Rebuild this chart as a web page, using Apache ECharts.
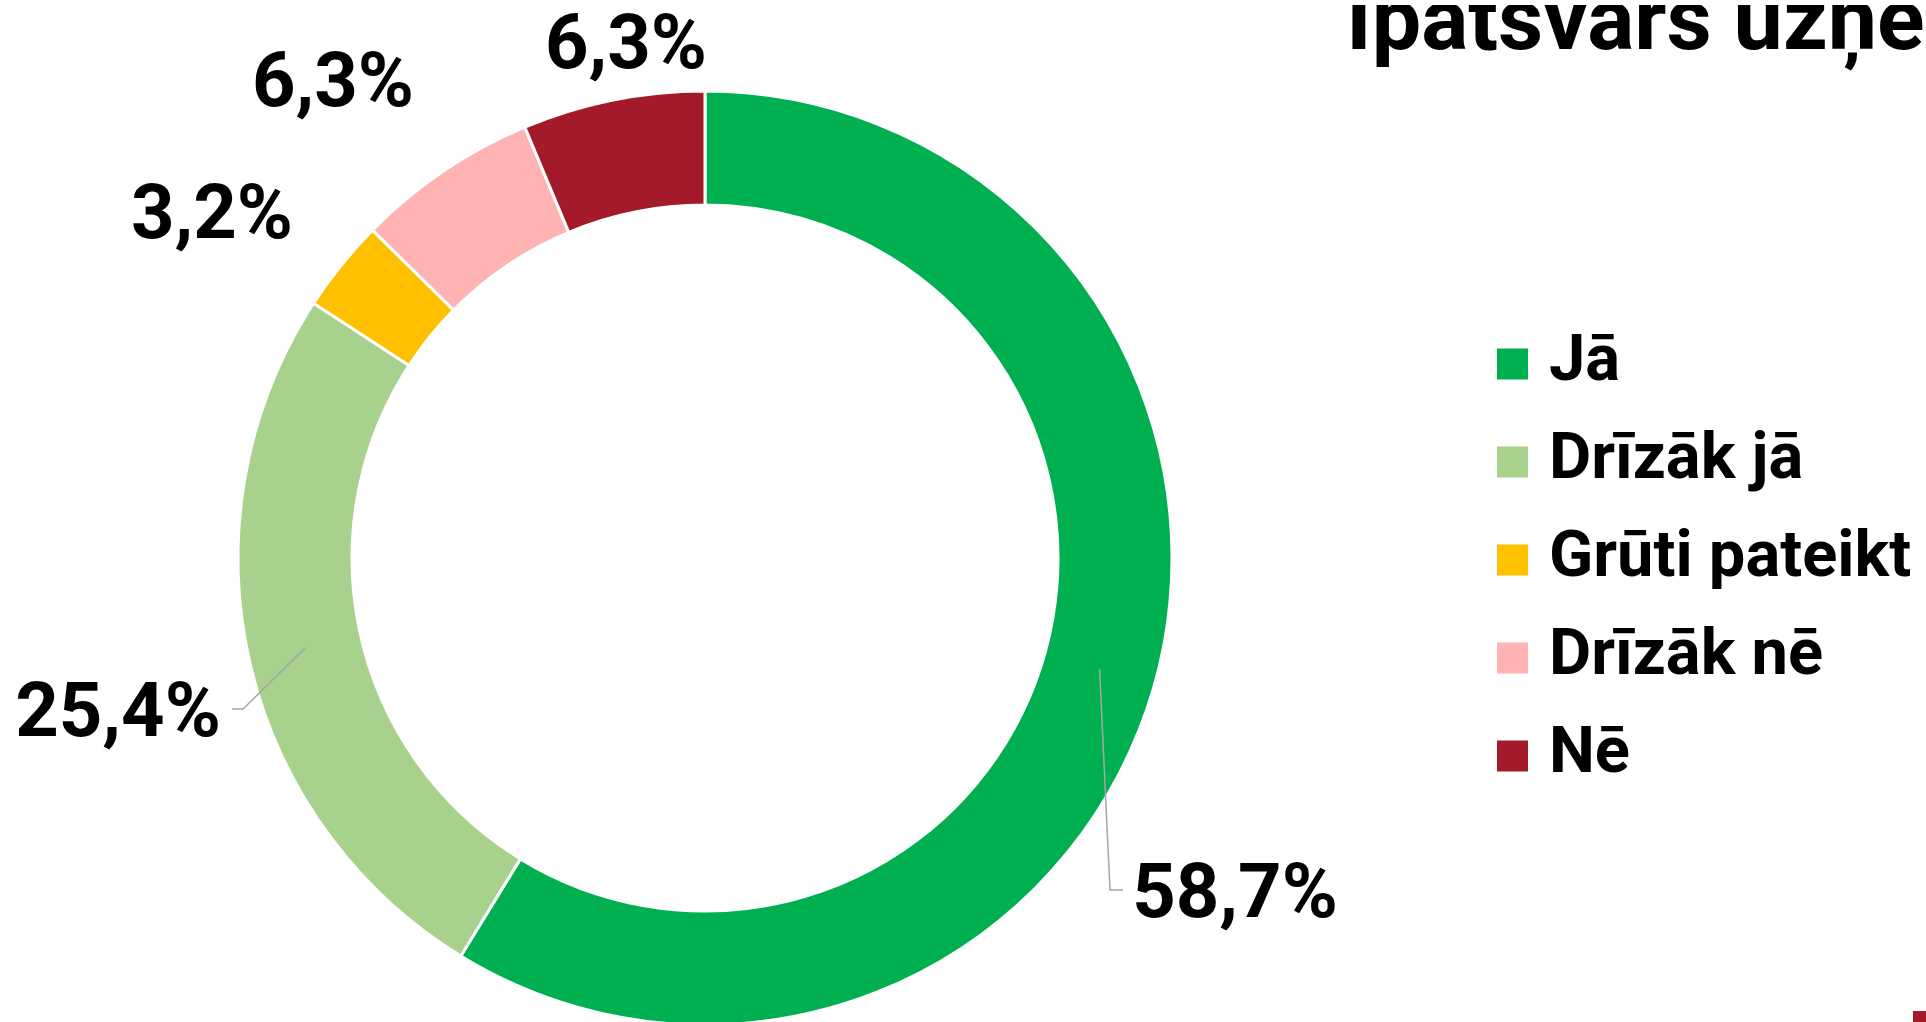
<!DOCTYPE html>
<html>
<head>
<meta charset="utf-8">
<script src="https://cdn.jsdelivr.net/npm/echarts@6/dist/echarts.min.js"></script>
<style>
    html, body { margin: 0; padding: 0; background: #fff; }
    #pie { width: 1926px; height: 1022px; }
</style>
</head>
<body>
<div id="pie"></div>
<script>
// atbilžu kategorijas un to īpatsvars (%)
let categories = ['Jā', 'Drīzāk jā', 'Grūti pateikt', 'Drīzāk nē', 'Nē'];
let shares = [58.7, 25.4, 3.2, 6.3, 6.3];

let colors = ['#00b050', '#a9d18e', '#ffc000', '#ffb3b3', '#a31b2a'];
let font = 'Roboto, "DejaVu Sans", sans-serif';

let ringCenter = [705, 558];
let ringRadius = [353, 467];
let leaderRadius = 410; // norādes līnija sākas gredzena vidū

// kur novietot procentu uzrakstus un kur lūzt norādes līnijas
let labelSpots = [[1235, 898], [118, 717], [212, 219], [333, 87], [626, 49]];
let leaderBends = [[[1110, 890], [1123, 890]], [[243, 709], [232, 709]], null, null, null];

function fmt(v) {
    return v.toFixed(1).replace('.', ',') + '%';
}

// sektora viduspunkts uz gredzena viduslīnijas
function leaderStart(i) {
    let total = shares.reduce(function (a, b) { return a + b; }, 0);
    let before = shares.slice(0, i).reduce(function (a, b) { return a + b; }, 0);
    let ang = (before + shares[i] / 2) / total * 2 * Math.PI;
    return [
        ringCenter[0] + leaderRadius * Math.sin(ang),
        ringCenter[1] - leaderRadius * Math.cos(ang)
    ];
}

function pie_chart() {
    let dom = document.getElementById('pie');
    let chart = echarts.init(dom);

    let ringData = categories.map(function (name, i) {
        return { name: name, value: shares[i], itemStyle: { color: colors[i] } };
    });
    // neredzams gredzens virs krāsainā, tikai uzrakstiem un līnijām
    let labelData = categories.map(function (name, i) {
        return { name: name, value: shares[i], labelLine: { show: !!leaderBends[i] } };
    });

    let option = {
        animation: false,
        legend: {
            orient: 'vertical',
            left: 1495,
            top: 331,
            padding: 0,
            itemWidth: 33,
            itemHeight: 33,
            itemGap: 32,
            icon: 'rect',
            selectedMode: false,
            data: categories,
            textStyle: {
                fontFamily: font,
                fontSize: 65,
                fontWeight: 'bold',
                color: '#000',
                lineHeight: 66,
                padding: [0, 0, 0, 15]
            }
        },
        graphic: [
            {
                type: 'text',
                x: 1346,
                y: -17,
                style: {
                    text: 'Īpatsvars uzņēmumos',
                    fontFamily: font,
                    fontSize: 88,
                    fontWeight: 'bold',
                    fill: '#000',
                    verticalAlign: 'top'
                }
            },
            {
                // virsraksta augšmala ir nogriezta
                type: 'rect',
                z: 100,
                shape: { x: 1300, y: 0, width: 626, height: 5 },
                style: { fill: '#fff' }
            },
            {
                type: 'rect',
                shape: { x: 1913, y: 1011, width: 13, height: 11 },
                style: { fill: '#a31b2a' }
            }
        ],
        series: [
            {
                name: 'Jā/Nē',
                type: 'pie',
                z: 2,
                center: ringCenter,
                radius: ringRadius,
                startAngle: 90,
                label: { show: false },
                labelLine: { show: false },
                emphasis: { disabled: true },
                itemStyle: { borderColor: '#fff', borderWidth: 3 },
                data: ringData
            },
            {
                name: 'uzraksti',
                type: 'pie',
                z: 3,
                silent: true,
                center: ringCenter,
                radius: [leaderRadius - 1, leaderRadius],
                startAngle: 90,
                legendHoverLink: false,
                emphasis: { disabled: true },
                itemStyle: { color: 'rgba(0,0,0,0)' },
                label: {
                    show: true,
                    position: 'outside',
                    width: 320,
                    formatter: function (p) { return fmt(p.value); },
                    fontFamily: font,
                    fontSize: 76,
                    fontWeight: 'bold',
                    color: '#000'
                },
                labelLine: {
                    lineStyle: { color: '#a6a6a6', width: 1.5 }
                },
                labelLayout: function (params) {
                    let i = params.dataIndex;
                    let res = {
                        x: labelSpots[i][0],
                        y: labelSpots[i][1],
                        align: 'center',
                        verticalAlign: 'middle'
                    };
                    if (leaderBends[i]) {
                        res.labelLinePoints = [leaderStart(i)].concat(leaderBends[i]);
                    }
                    return res;
                },
                data: labelData
            }
        ]
    };

    option && chart.setOption(option);
}

pie_chart();
</script>
</body>
</html>
